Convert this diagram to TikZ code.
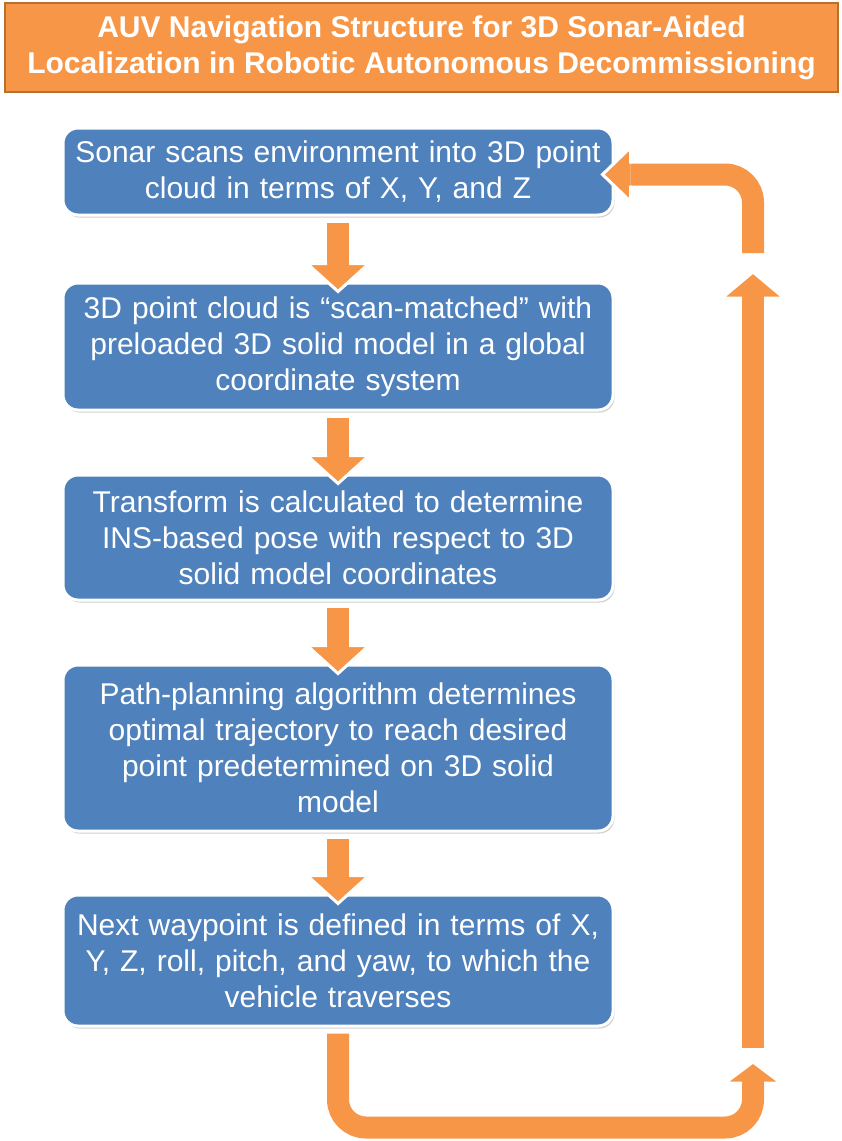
\documentclass[tikz,border=0pt]{standalone}
\usepackage{fontspec}
\setmainfont{Liberation Sans}
\usetikzlibrary{calc,shadows}
\definecolor{boxblue}{HTML}{4F81BD}
\definecolor{arrorange}{HTML}{F79646}
\definecolor{titleedge}{HTML}{B9702F}
\tikzset{
  titlebox/.style={draw=titleedge, line width=2pt, fill=arrorange, minimum width=833pt,
    minimum height=89pt, align=center, text=white, inner sep=0pt,
    font=\fontsize{30}{36}\selectfont\bfseries},
  stepbox/.style={draw=white, line width=3pt, fill=boxblue, rounded corners=15pt,
    minimum width=550pt, text width=540pt, align=center, text=white, inner sep=0pt,
    font=\fontsize{30}{36}\selectfont,
    drop shadow={shadow xshift=1.5pt, shadow yshift=-2.5pt, opacity=0.3, fill=black!60}},
  shaft/.style={draw=arrorange, line width=22pt,
    preaction={draw=white, line width=28pt, shorten <=-3pt}},
  arrhead/.style={fill=arrorange, draw=white, line width=3pt, line join=miter},
}
\begin{document}
\begin{tikzpicture}[x=1pt, y=-1pt]
  \useasboundingbox (0,0) rectangle (842,1141);
  \fill[white] (0,0) rectangle (842,1141);
  % title
  \node[titlebox] (title) at (421.5,47.5) {AUV Navigation Structure for 3D Sonar-Aided\\Localization in Robotic Autonomous Decommissioning};
  % steps
  \node[stepbox, minimum height=87pt] (s1) at (338,171.5) {Sonar scans environment into 3D point\\cloud in terms of X, Y, and Z};
  \node[stepbox, minimum height=127pt] (s2) at (338,346.5) {3D point cloud is “scan-matched” with\\preloaded 3D solid model in a global\\coordinate system};
  \node[stepbox, minimum height=125pt] (s3) at (338,537.5) {Transform is calculated to determine\\INS-based pose with respect to 3D\\solid model coordinates};
  \node[stepbox, minimum height=166pt] (s4) at (338,748) {Path-planning algorithm determines\\optimal trajectory to reach desired\\point predetermined on 3D solid\\model};
  \node[stepbox, minimum height=131pt] (s5) at (338,960.5) {Next waypoint is defined in terms of X,\\Y, Z, roll, pitch, and yaw, to which the\\vehicle traverses};
  % arrows between steps
  \foreach \a/\b in {s1/s2, s2/s3, s3/s4, s4/s5} {
    \draw[shaft] ($(\a.south)+(0,6)$) -- ($(\b.north)+(0,-18)$);
    \filldraw[arrhead] ($(\b.north)+(-11,-18)$) -- ($(\b.north)+(-31,-18)$) -- ($(\b.north)+(0,10)$)
      -- ($(\b.north)+(31,-18)$) -- ($(\b.north)+(11,-18)$);
  }
  % loop back
  \coordinate (uend) at (753,1083);
  \coordinate (lbot) at (753,1048);
  \coordinate (lhead) at (753,298);
  \coordinate (ctail) at (753,253);
  \draw[shaft, rounded corners=28pt] ($(s5.south)+(0,6)$) -- ($(s5.south)+(0,100)$) -| (uend);
  \filldraw[arrhead] ($(uend)+(-11,0)$) -- ($(uend)+(-28,0)$) -- ($(uend)+(0,-21)$)
    -- ($(uend)+(28,0)$) -- ($(uend)+(11,0)$);
  \draw[shaft] (lbot) -- (lhead);
  \filldraw[arrhead] ($(lhead)+(-11,0)$) -- ($(lhead)+(-31,0)$) -- ($(lhead)+(0,-26)$)
    -- ($(lhead)+(31,0)$) -- ($(lhead)+(11,0)$);
  \draw[shaft, rounded corners=28pt] (ctail) |- ($(s1.east)+(16,3)$);
  \filldraw[arrhead] ($(s1.east)+(16,-8)$) -- ($(s1.east)+(16,-24)$) -- ($(s1.east)+(-12,3)$)
    -- ($(s1.east)+(16,30)$) -- ($(s1.east)+(16,14)$);
\end{tikzpicture}
\end{document}
